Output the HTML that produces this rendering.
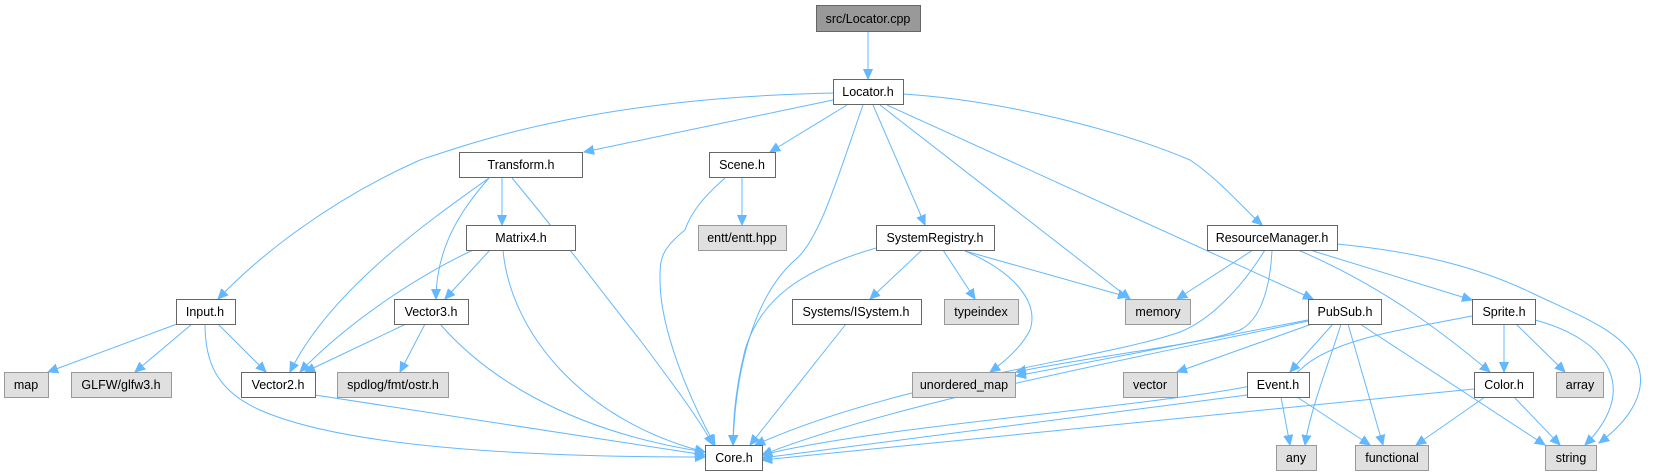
<!DOCTYPE html>
<html><head><meta charset="utf-8"><style>
html,body{margin:0;padding:0;background:#fff;}
svg{display:block}
text{font-family:"Liberation Sans",Arial,sans-serif;font-size:12.5px;fill:#000;text-anchor:middle;}
.w{fill:#fff;stroke:#666;stroke-width:1}
.g{fill:#e0e0e0;stroke:#999;stroke-width:1}
.d{fill:#999;stroke:#666;stroke-width:1}
path{fill:none;stroke:#63b8ff;stroke-width:1;}
</style></head><body>
<svg width="1679" height="476" viewBox="0 0 1679 476" xmlns="http://www.w3.org/2000/svg">
<defs><marker id="a" markerUnits="userSpaceOnUse" markerWidth="12" markerHeight="10" refX="10" refY="5" orient="auto"><path d="M0,0.5 L10,5 L0,9.5 Z" style="fill:#63b8ff;stroke:#63b8ff"/></marker></defs>
<g marker-end="url(#a)">
<path d="M868,31 L868,79"/>
<path d="M833,93 C600,98 480,140 420,160 C330,200 260,255 218,299"/>
<path d="M833,100 L584,152"/>
<path d="M847,105 L770,152"/>
<path d="M863,105 C840,170 820,240 795,260 C750,300 735,380 733,445"/>
<path d="M873,105 L925,225"/>
<path d="M880,105 L1130,299"/>
<path d="M887,105 L1313,299"/>
<path d="M903,94 C1000,100 1120,130 1190,160 C1220,180 1245,210 1262,225"/>
<path d="M489,178 C430,220 330,290 290,372"/>
<path d="M489,178 C470,200 436,240 436,299"/>
<path d="M502,178 L502,225"/>
<path d="M512,178 C560,235 600,290 640,340 C670,380 700,420 713,445"/>
<path d="M742,178 L742,225"/>
<path d="M725,178 C700,200 690,215 685,230 C660,250 660,260 660,280 C660,330 690,400 715,445"/>
<path d="M473,250 C420,275 350,320 300,372"/>
<path d="M490,250 L445,299"/>
<path d="M503,250 C510,330 580,420 705,452"/>
<path d="M876,248 C800,270 760,300 745,350 C735,390 733,420 733,445"/>
<path d="M922,250 L870,299"/>
<path d="M943,250 L975,299"/>
<path d="M965,251 C1010,270 1040,300 1030,330 C1020,350 1000,365 990,372"/>
<path d="M965,251 L1128,297"/>
<path d="M177,324 L48,372"/>
<path d="M192,324 L135,372"/>
<path d="M218,324 L266,372"/>
<path d="M205,324 C205,360 215,390 260,410 C350,450 550,457 705,457"/>
<path d="M406,324 L305,372"/>
<path d="M425,324 L400,372"/>
<path d="M440,324 C480,370 560,430 705,452"/>
<path d="M846,324 L750,445"/>
<path d="M315,395 L705,455"/>
<path d="M1253,250 L1177,299"/>
<path d="M1265,250 C1240,290 1210,320 1180,332 C1100,360 900,380 755,445"/>
<path d="M1272,250 C1270,290 1260,320 1240,330 C1200,345 1100,355 1016,372"/>
<path d="M1298,250 C1380,285 1440,330 1490,372"/>
<path d="M1310,250 L1472,300"/>
<path d="M1337,244 C1420,252 1480,268 1532,293 C1580,316 1620,330 1636,360 C1650,390 1630,420 1599,443"/>
<path d="M1308,320 L1016,376"/>
<path d="M1308,321 C1200,345 900,400 762,455"/>
<path d="M1312,324 L1177,372"/>
<path d="M1333,324 L1290,372"/>
<path d="M1341,324 C1330,360 1310,410 1305,445"/>
<path d="M1348,324 L1383,445"/>
<path d="M1360,324 L1545,445"/>
<path d="M1472,316 C1400,330 1330,340 1300,370 C1270,400 900,420 762,455"/>
<path d="M1504,324 L1504,372"/>
<path d="M1516,324 L1565,372"/>
<path d="M1535,320 C1610,340 1640,390 1585,445"/>
<path d="M1247,395 L762,458"/>
<path d="M1281,397 L1290,445"/>
<path d="M1297,397 L1370,445"/>
<path d="M1474,389 L762,460"/>
<path d="M1485,397 L1416,445"/>
<path d="M1514,397 L1560,445"/>
</g>
<rect class="d" x="816.5" y="5.5" width="104" height="26"/><text x="868" y="23">src/Locator.cpp</text>
<rect class="w" x="833.5" y="79.5" width="70" height="25"/><text x="868" y="96">Locator.h</text>
<rect class="w" x="459.5" y="152.5" width="123" height="25"/><text x="521" y="169">Transform.h</text>
<rect class="w" x="709.5" y="152.5" width="66" height="25"/><text x="742" y="169">Scene.h</text>
<rect class="w" x="466.5" y="225.5" width="109" height="25"/><text x="521" y="242">Matrix4.h</text>
<rect class="g" x="698.5" y="225.5" width="88" height="25"/><text x="742" y="242">entt/entt.hpp</text>
<rect class="w" x="876.5" y="225.5" width="118" height="25"/><text x="935" y="242">SystemRegistry.h</text>
<rect class="w" x="1207.5" y="225.5" width="130" height="25"/><text x="1272" y="242">ResourceManager.h</text>
<rect class="w" x="176.5" y="299.5" width="59" height="25"/><text x="205" y="316">Input.h</text>
<rect class="w" x="394.5" y="299.5" width="74" height="25"/><text x="431" y="316">Vector3.h</text>
<rect class="w" x="792.5" y="299.5" width="129" height="25"/><text x="856" y="316">Systems/ISystem.h</text>
<rect class="g" x="944.5" y="299.5" width="74" height="25"/><text x="981" y="316">typeindex</text>
<rect class="g" x="1125.5" y="299.5" width="65" height="25"/><text x="1158" y="316">memory</text>
<rect class="w" x="1308.5" y="299.5" width="73" height="25"/><text x="1345" y="316">PubSub.h</text>
<rect class="w" x="1472.5" y="299.5" width="63" height="25"/><text x="1504" y="316">Sprite.h</text>
<rect class="g" x="4.5" y="372.5" width="44" height="25"/><text x="26" y="389">map</text>
<rect class="g" x="71.5" y="372.5" width="100" height="25"/><text x="121" y="389">GLFW/glfw3.h</text>
<rect class="w" x="241.5" y="372.5" width="74" height="25"/><text x="278" y="389">Vector2.h</text>
<rect class="g" x="337.5" y="372.5" width="111" height="25"/><text x="393" y="389">spdlog/fmt/ostr.h</text>
<rect class="g" x="912.5" y="372.5" width="103" height="25"/><text x="964" y="389">unordered_map</text>
<rect class="g" x="1123.5" y="372.5" width="54" height="25"/><text x="1150" y="389">vector</text>
<rect class="w" x="1247.5" y="372.5" width="62" height="25"/><text x="1278" y="389">Event.h</text>
<rect class="w" x="1474.5" y="372.5" width="59" height="25"/><text x="1504" y="389">Color.h</text>
<rect class="g" x="1556.5" y="372.5" width="47" height="25"/><text x="1580" y="389">array</text>
<rect class="w" x="705.5" y="445.5" width="57" height="25"/><text x="734" y="462">Core.h</text>
<rect class="g" x="1276.5" y="445.5" width="40" height="25"/><text x="1296" y="462">any</text>
<rect class="g" x="1355.5" y="445.5" width="73" height="25"/><text x="1392" y="462">functional</text>
<rect class="g" x="1545.5" y="445.5" width="51" height="25"/><text x="1571" y="462">string</text>
</svg>
</body></html>
